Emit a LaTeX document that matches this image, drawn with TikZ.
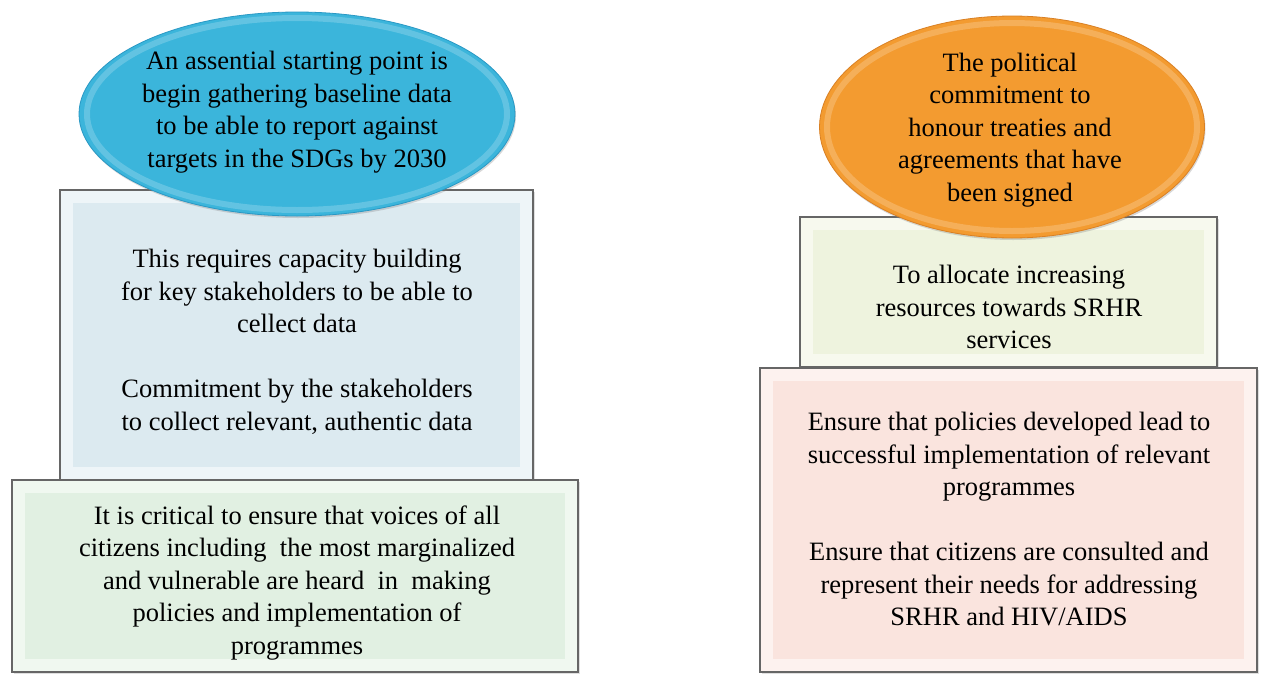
\documentclass[tikz,border=0pt]{standalone}
\usepackage{fontspec}
\setmainfont{Liberation Serif}
\usetikzlibrary{shapes.geometric,shadows}
\definecolor{cyanfill}{HTML}{3BB5DB}
\definecolor{cyanedge}{HTML}{2A98C4}
\definecolor{orfill}{HTML}{F39B30}
\definecolor{oredge}{HTML}{D98024}
\definecolor{bluebox}{HTML}{DCEAF0}
\definecolor{blueband}{HTML}{EEF5F8}
\definecolor{greenbox}{HTML}{E1F0E2}
\definecolor{greenband}{HTML}{F0F8F0}
\definecolor{yelbox}{HTML}{EEF3DE}
\definecolor{yelband}{HTML}{F7F9EE}
\definecolor{pinkbox}{HTML}{FAE4DE}
\definecolor{pinkband}{HTML}{FDF2EF}
\begin{document}
\begin{tikzpicture}[x=1pt,y=-1pt,
  panel/.style n args={2}{rectangle, inner sep=0pt, fill=#2, draw=black!60, line width=1.3pt,
    drop shadow={shadow xshift=2pt, shadow yshift=-2pt, opacity=0.25},
    path picture={\fill[#1] ([shift={(13pt,-13pt)}]path picture bounding box.north west)
      rectangle ([shift={(-13pt,13pt)}]path picture bounding box.south east);}},
  oval/.style n args={2}{ellipse, inner sep=0pt, fill=#1, draw=#2, line width=0.8pt,
    drop shadow={shadow xshift=1pt, shadow yshift=-2pt, opacity=0.3}},
  txt/.style={align=center, inner sep=0pt, font=\fontsize{26.5}{32.5}\selectfont}
]
\useasboundingbox[fill=white] (0,0) rectangle (1263,675);

% left column
\node[panel={bluebox}{blueband}, minimum width=473pt, minimum height=290pt] (bbox) at (296.5,335) {};
\node[panel={greenbox}{greenband}, minimum width=566pt, minimum height=192pt] (gbox) at (295,576) {};
\node[oval={cyanfill}{cyanedge}, minimum width=436pt, minimum height=204pt] (bell) at (297,114) {};
\draw[white, opacity=0.2, line width=6pt] (bell.center) ellipse [x radius=210pt, y radius=96pt];

\node[txt] (bellt) at (297,112) {An assential starting point is\\begin gathering baseline data\\to be able to report against\\targets in the SDGs by 2030};
\node[txt] (bboxt) at (297,342) {This requires capacity building\\for key stakeholders to be able to\\cellect data\\[32.5pt]Commitment by the stakeholders\\to collect relevant, authentic data};
\node[txt] (gboxt) at (297,583) {It is critical to ensure that voices of all\\citizens including\ \ the most marginalized\\and vulnerable are heard\ \ in\ \ making\\policies and implementation of\\programmes};

% right column
\node[panel={yelbox}{yelband}, minimum width=417pt, minimum height=150pt] (ybox) at (1008.5,292) {};
\node[panel={pinkbox}{pinkband}, minimum width=497pt, minimum height=304pt] (pbox) at (1008.5,520) {};
\node[oval={orfill}{oredge}, minimum width=385pt, minimum height=222pt] (oell) at (1012,127) {};
\draw[white, opacity=0.2, line width=6pt] (oell.center) ellipse [x radius=185pt, y radius=104pt];

\node[txt] (oellt) at (1010,130) {The political\\commitment to\\honour treaties and\\agreements that have\\been signed};
\node[txt] (yboxt) at (1009,307) {To allocate increasing\\resources towards SRHR\\services};
\node[txt] (pboxt) at (1009,519) {Ensure that policies developed lead to\\successful implementation of relevant\\programmes\\[32.5pt]Ensure that citizens are consulted and\\represent their needs for addressing\\SRHR and HIV/AIDS};
\end{tikzpicture}
\end{document}
